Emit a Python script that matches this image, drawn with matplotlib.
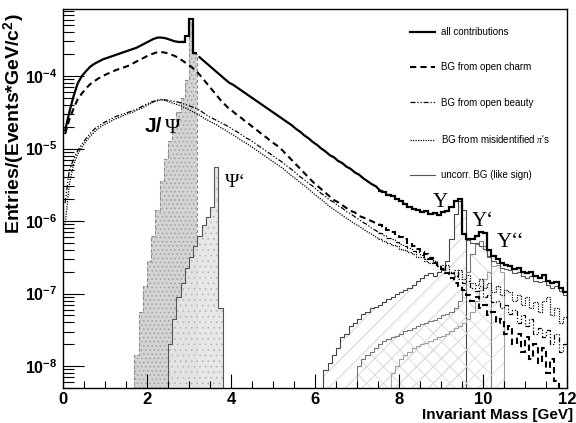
import numpy as np
import matplotlib
matplotlib.use('Agg')
import matplotlib.pyplot as plt
from matplotlib.lines import Line2D

# ── data (log10 of entries per 0.1 GeV bin) ───────────────────────────────────

BIN = 0.1
mass_lo = 0.0

all_contrib = [
    -4.75, -4.50, -4.28, -4.10, -4.00, -3.93, -3.87, -3.83, -3.80, -3.77,
    -3.75, -3.73, -3.71, -3.69, -3.67, -3.65, -3.63, -3.61, -3.58, -3.55,
    -3.52, -3.49, -3.47, -3.47, -3.48, -3.50, -3.52, -3.53, -3.53, -3.45,
    -3.21, -3.68, -3.74, -3.79, -3.84, -3.89, -3.94, -3.99, -4.04, -4.09,
    -4.12, -4.16, -4.20, -4.24, -4.28, -4.32, -4.36, -4.40, -4.44, -4.48,
    -4.52, -4.56, -4.60, -4.64, -4.68, -4.73, -4.77, -4.82, -4.86, -4.91,
    -4.95, -5.00, -5.04, -5.09, -5.12, -5.17, -5.20, -5.25, -5.28, -5.33,
    -5.36, -5.41, -5.45, -5.49, -5.52, -5.58, -5.60, -5.64, -5.66, -5.70,
    -5.72, -5.76, -5.80, -5.83, -5.85, -5.88, -5.86, -5.90, -5.89, -5.92,
    -5.88, -5.86, -5.80, -5.72, -5.70, -6.18, -6.24, -6.24, -6.20, -6.15,
    -6.17, -6.40, -6.48, -6.52, -6.58, -6.60, -6.62, -6.66, -6.64, -6.70,
    -6.72, -6.70, -6.76, -6.78, -6.74, -6.82, -6.86, -6.84, -6.92, -6.98,
]

open_charm = [
    -4.80, -4.60, -4.45, -4.32, -4.24, -4.17, -4.11, -4.07, -4.03, -4.00,
    -3.97, -3.95, -3.92, -3.90, -3.88, -3.86, -3.83, -3.80, -3.77, -3.74,
    -3.71, -3.69, -3.67, -3.67, -3.68, -3.70, -3.72, -3.75, -3.79, -3.83,
    -3.87, -3.92, -3.98, -4.05, -4.12, -4.19, -4.26, -4.33, -4.39, -4.45,
    -4.49, -4.54, -4.58, -4.63, -4.67, -4.72, -4.76, -4.81, -4.85, -4.90,
    -4.94, -4.98, -5.04, -5.10, -5.16, -5.22, -5.28, -5.34, -5.40, -5.46,
    -5.51, -5.56, -5.61, -5.66, -5.71, -5.74, -5.78, -5.82, -5.86, -5.88,
    -5.93, -5.95, -5.98, -6.00, -6.03, -6.05, -6.09, -6.12, -6.15, -6.18,
    -6.22, -6.25, -6.30, -6.34, -6.38, -6.42, -6.46, -6.52, -6.58, -6.63,
    -6.66, -6.72, -6.78, -6.85, -6.90, -6.95, -7.02, -7.10, -7.05, -7.20,
    -7.15, -7.30, -7.25, -7.40, -7.35, -7.55, -7.45, -7.70, -7.55, -7.80,
    -7.60, -7.90, -7.70, -7.95, -7.75, -8.10, -7.90, -8.20, -8.40, -8.40,
]

open_beauty = [
    -5.75, -5.30, -5.15, -5.03, -4.94, -4.86, -4.79, -4.73, -4.69, -4.65,
    -4.62, -4.59, -4.56, -4.54, -4.52, -4.50, -4.48, -4.46, -4.43, -4.40,
    -4.37, -4.35, -4.33, -4.32, -4.33, -4.34, -4.35, -4.36, -4.38, -4.40,
    -4.42, -4.44, -4.47, -4.51, -4.55, -4.58, -4.61, -4.64, -4.67, -4.70,
    -4.74, -4.77, -4.81, -4.85, -4.88, -4.92, -4.96, -5.00, -5.04, -5.08,
    -5.12, -5.16, -5.20, -5.25, -5.29, -5.34, -5.39, -5.43, -5.48, -5.52,
    -5.57, -5.62, -5.66, -5.71, -5.74, -5.79, -5.82, -5.87, -5.90, -5.94,
    -5.98, -6.02, -6.05, -6.10, -6.13, -6.17, -6.19, -6.23, -6.25, -6.29,
    -6.31, -6.35, -6.37, -6.41, -6.43, -6.47, -6.52, -6.50, -6.58, -6.62,
    -6.60, -6.70, -6.72, -6.68, -6.80, -6.85, -6.82, -6.92, -6.96, -6.90,
    -7.05, -7.02, -7.12, -7.10, -7.20, -7.15, -7.28, -7.22, -7.40, -7.30,
    -7.45, -7.35, -7.55, -7.48, -7.60, -7.50, -7.70, -7.55, -7.80, -7.70,
]

misid_pions = [
    -6.05, -5.50, -5.22, -5.08, -4.98, -4.90, -4.83, -4.77, -4.72, -4.68,
    -4.65, -4.62, -4.59, -4.57, -4.54, -4.52, -4.50, -4.47, -4.45, -4.42,
    -4.39, -4.36, -4.34, -4.33, -4.34, -4.36, -4.38, -4.40, -4.42, -4.45,
    -4.48, -4.51, -4.54, -4.58, -4.61, -4.64, -4.67, -4.71, -4.74, -4.78,
    -4.81, -4.85, -4.89, -4.92, -4.96, -5.00, -5.04, -5.08, -5.12, -5.16,
    -5.20, -5.24, -5.28, -5.33, -5.38, -5.42, -5.47, -5.51, -5.56, -5.61,
    -5.66, -5.70, -5.75, -5.80, -5.84, -5.88, -5.92, -5.96, -6.00, -6.04,
    -6.07, -6.11, -6.15, -6.18, -6.22, -6.25, -6.28, -6.30, -6.33, -6.35,
    -6.38, -6.40, -6.43, -6.45, -6.49, -6.50, -6.55, -6.58, -6.55, -6.62,
    -6.66, -6.60, -6.70, -6.75, -6.68, -6.80, -6.74, -6.85, -6.88, -6.80,
    -6.92, -6.85, -6.98, -6.90, -7.02, -6.95, -6.98, -7.10, -7.02, -7.15,
    -7.05, -7.20, -7.12, -7.25, -7.10, -7.05, -7.30, -7.20, -7.40, -7.32,
]

# uncorrelated like-sign background, only visible above the Upsilon region
like_sign_lo = 9.6
like_sign = [
    -6.26, -6.30, -6.30, -6.34, -6.38, -6.48, -6.55, -6.58, -6.64, -6.66,
    -6.68, -6.72, -6.70, -6.76, -6.78, -6.76, -6.82, -6.84, -6.82, -6.88,
    -6.92, -6.90, -6.96, -7.02,
]

# resonances
jpsi_lo = 1.7
jpsi = [-7.85, -7.25, -6.90, -6.55, -6.20, -5.85, -5.45, -5.15,
        -4.90, -4.70, -4.50, -4.30, -4.05, -3.25, -3.70]

psi2s_lo = 2.5
psi2s = [-7.70, -7.35, -7.05, -6.85, -6.65, -6.50, -6.35,
         -6.20, -6.05, -5.95, -5.80, -5.25, -7.20]

ups1s_lo = 6.2
ups1s = [-8.05, -7.95, -7.85, -7.75, -7.60, -7.55, -7.45, -7.40, -7.35, -7.28,
         -7.25, -7.20, -7.18, -7.15, -7.12, -7.08, -7.05, -7.00, -6.98, -6.95,
         -6.92, -6.88, -6.82, -6.78, -6.74, -6.72, -6.75, -6.70, -6.68, -6.55,
         -6.25, -5.90, -5.72, -5.85]

ups2s_lo = 7.0
ups2s = [-8.00, -7.90, -7.85, -7.80, -7.75, -7.70, -7.65, -7.62, -7.60, -7.58,
         -7.55, -7.52, -7.50, -7.48, -7.45, -7.42, -7.40, -7.38, -7.36, -7.34,
         -7.30, -7.28, -7.25, -7.20, -7.10, -6.95, -6.70, -6.45, -6.32, -6.28,
         -6.35, -6.50]

ups3s_lo = 7.8
ups3s = [-8.10, -8.00, -7.90, -7.85, -7.80, -7.75, -7.72, -7.70, -7.68, -7.65,
         -7.62, -7.60, -7.58, -7.55, -7.52, -7.48, -7.45, -7.40, -7.35, -7.25,
         -7.10, -6.95, -6.80, -6.70, -6.62, -6.60, -6.70]

labels = ['all contributions', 'BG from open charm', 'BG from open beauty',
          "BG from misidentified $\\pi$'s", 'uncorr. BG (like sign)']


def edges(lo, vals):
    return np.round(lo + BIN * np.arange(len(vals) + 1), 3)


def lin(vals):
    return 10.0 ** np.asarray(vals)


def draw(ax, lo, vals, segments, **kw):
    """Draw a histogram; 'line' segments join bin centres, 'step' ones are stairs."""
    e = edges(lo, vals)
    c = e[:-1] + BIN / 2
    y = lin(vals)
    for a, b, kind in segments:
        if kind == 'line':
            ax.plot(c[a:b + 1], y[a:b + 1], solid_joinstyle='round', **kw)
        else:
            ax.stairs(y[a:b], e[a:b + 1], baseline=None, **kw)


# ── plot ───────────────────────────────────────────────────────────────────────

plt.rcParams['font.family'] = ['Liberation Sans', 'DejaVu Sans']
plt.rcParams['mathtext.fontset'] = 'custom'
plt.rcParams['mathtext.rm'] = 'Liberation Sans'
plt.rcParams['mathtext.bf'] = 'Liberation Sans:bold'
plt.rcParams['mathtext.it'] = 'Liberation Serif:italic'
plt.rcParams['hatch.linewidth'] = 0.6

fig = plt.figure(figsize=(5.76, 4.23), dpi=100)
ax = fig.add_axes([63 / 576, 1 - 388 / 423, 504 / 576, 379 / 423])

base = 1e-9

# resonance peaks (filled, below the curves)
ax.stairs(lin(jpsi), edges(jpsi_lo, jpsi), baseline=base, fill=True,
          facecolor='#d4d4d4', edgecolor='#a0a0a0', hatch='....', lw=0)
ax.stairs(lin(jpsi), edges(jpsi_lo, jpsi), baseline=base,
          color='#8c8c8c', lw=0.8, ls=(0, (3, 2)))
ax.stairs(lin(psi2s), edges(psi2s_lo, psi2s), baseline=base, fill=True,
          facecolor='#e6e6e6', edgecolor='#b8b8b8', hatch='...', lw=0, alpha=0.9)
ax.stairs(lin(psi2s), edges(psi2s_lo, psi2s), baseline=base,
          color='#555555', lw=0.8)

for vals, lo, hatch, hcol, lcol in [(ups1s, ups1s_lo, '//', '#d0d0d0', '#444444'),
                                     (ups2s, ups2s_lo, '\\\\', '#d6d6d6', '#777777'),
                                     (ups3s, ups3s_lo, '//', '#dcdcdc', '#a0a0a0')]:
    ax.stairs(lin(vals), edges(lo, vals), baseline=base, fill=True,
              facecolor='none', edgecolor=hcol, hatch=hatch, lw=0)
    ax.stairs(lin(vals), edges(lo, vals), baseline=base, color=lcol, lw=0.8)

# backgrounds: smooth below 7.5 GeV, binned noise above
bg_segments = [(0, 75, 'line'), (75, 120, 'step')]
draw(ax, mass_lo, misid_pions, bg_segments, color='black', lw=0.9, ls=(0, (1, 1)))
draw(ax, mass_lo, open_beauty, bg_segments, color='black', lw=0.9,
     ls=(0, (4, 1.5, 1, 1.5, 1, 1.5)))
draw(ax, mass_lo, open_charm, bg_segments, color='black', lw=1.5, ls=(0, (3, 2)))
draw(ax, like_sign_lo, like_sign, [(0, len(like_sign), 'step')],
     color='#555555', lw=0.8)
draw(ax, mass_lo, all_contrib,
     [(0, 28, 'line'), (28, 32, 'step'), (32, 75, 'line'), (75, 120, 'step')],
     color='black', lw=1.6)

ax.set_yscale('log')
ax.set_xlim(0, 12)
ax.set_ylim(5.0e-9, 8.4e-4)

ax.set_xticks(np.arange(0, 13, 2))
ax.set_xticks(np.arange(0, 12.01, 0.5), minor=True)
ax.set_xticklabels([str(int(v)) for v in np.arange(0, 13, 2)])
ax.set_yticks([1e-8, 1e-7, 1e-6, 1e-5, 1e-4])
ax.set_yticklabels([r'$\mathbf{10^{%d}}$' % e for e in range(-8, -3)])
ax.tick_params(which='both', direction='in', top=False, right=False)
ax.tick_params(axis='y', which='major', length=15, width=0.8, labelsize=11.5, pad=4)
ax.tick_params(axis='y', which='minor', length=8, width=0.8)
ax.tick_params(axis='x', which='major', length=10, width=0.8, labelsize=12, pad=3)
ax.tick_params(axis='x', which='minor', length=5, width=0.8)
for lab in ax.get_xticklabels():
    lab.set_fontweight('bold')
for sp in ax.spines.values():
    sp.set_linewidth(1.0)

fig.text(573 / 576, 1 - 415 / 423, 'Invariant Mass [GeV]', fontsize=11,
         fontweight='bold', ha='right', va='center')
fig.text(14 / 576, 1 - 13 / 423, 'Entries/(Events*GeV/c$^{\\mathbf{2}}$)',
         fontsize=14, fontweight='bold', rotation=90, ha='center', va='top')

# resonance labels
ax.text(1.95, 10 ** -4.70, 'J/', fontsize=15, fontweight='bold', va='center')
ax.text(2.43, 10 ** -4.72, '\u03a8', fontsize=15, family='Liberation Serif',
        va='center')
ax.text(3.86, 10 ** -5.47, '\u03a8\u2018', fontsize=14, family='Liberation Serif',
        va='center')
ax.text(8.81, 10 ** -5.74, '\u03a5', fontsize=15, family='Liberation Serif',
        va='center')
ax.text(9.74, 10 ** -6.01, '\u03a5\u2018', fontsize=15, family='Liberation Serif',
        va='center')
ax.text(10.33, 10 ** -6.29, '\u03a5\u2018\u2018', fontsize=15,
        family='Liberation Serif', va='center')

handles = [Line2D([], [], color='black', lw=1.6),
           Line2D([], [], color='black', lw=1.5, ls=(0, (3, 2))),
           Line2D([], [], color='black', lw=0.9, ls=(0, (4, 1.5, 1, 1.5, 1, 1.5))),
           Line2D([], [], color='black', lw=0.9, ls=(0, (1, 1))),
           Line2D([], [], color='#555555', lw=0.8)]
ax.legend(handles, labels, loc='upper left', bbox_to_anchor=(0.688, 0.952),
          frameon=False, fontsize=7, handlelength=2.6, handletextpad=0.6,
          labelspacing=2.6, borderaxespad=0, borderpad=0)

fig.savefig('out.png', dpi=100, facecolor='white')
